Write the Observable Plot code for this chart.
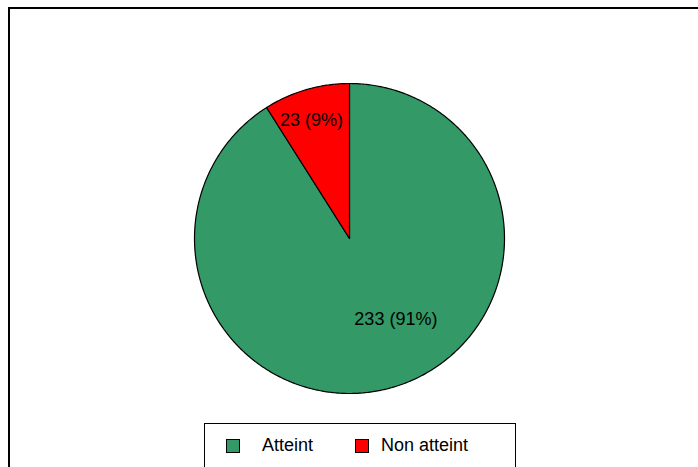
<!DOCTYPE html>
<html>
<head>
<meta charset="utf-8">
<script src="https://cdn.jsdelivr.net/npm/d3@7"></script>
<script src="https://cdn.jsdelivr.net/npm/@observablehq/plot@0.6"></script>
<style>
  html, body { margin: 0; padding: 0; background: #fff; overflow: hidden; }
  #wrap { position: relative; width: 698px; height: 467px; overflow: hidden; font-family: "Liberation Sans", Arial, sans-serif; }
  #frame { position: absolute; left: 8px; top: 7px; width: 720px; height: 500px; border: 2px solid #000; box-sizing: border-box; }
  #chart { position: absolute; left: 0; top: 0; }
  #legend { position: absolute; left: 204px; top: 423px; width: 312px; height: 60px; border: 1.5px solid #000; box-sizing: border-box; background: #fff; }
  .item { position: absolute; top: 11px; font-size: 18px; color: #000; display: flex; align-items: center; }
  .sw { width: 12px; height: 12px; border: 1.5px solid #000; margin-right: 22px; }
</style>
</head>
<body>
<div id="wrap">
  <div id="frame"></div>
  <div id="chart"></div>
  <div id="legend"></div>
</div>
<script>
const categories = ["Atteint", "Non atteint"];
const values = [233, 23];
const percentLabels = ["91%", "9%"];
const colors = ["#339966", "#FF0000"];

// layout
const W = 698, H = 467, cx = 349, cy = 238, R = 155;
const labelRadius = [0.6, 0.8];
const labelAngleShift = [-0.24, -0.03];

const arcs = d3.pie().sort(null).value(d => d)(values);
const polys = [];
arcs.forEach((a, i) => {
  const steps = Math.max(2, Math.ceil((a.endAngle - a.startAngle) / 0.01));
  polys.push({cat: categories[i], k: 0, x: 0, y: 0});
  for (let s = 0; s <= steps; s++) {
    const t = a.startAngle + (a.endAngle - a.startAngle) * s / steps;
    polys.push({cat: categories[i], k: s + 1, x: Math.sin(t), y: Math.cos(t)});
  }
});
const labels = arcs.map((a, i) => {
  const m = (a.startAngle + a.endAngle) / 2 + labelAngleShift[i];
  return {cat: categories[i], text: `${values[i]} (${percentLabels[i]})`, x: labelRadius[i] * Math.sin(m), y: labelRadius[i] * Math.cos(m)};
});

const plot = Plot.plot({
  width: W, height: H,
  margin: 0,
  x: {domain: [-cx / R, (W - cx) / R], axis: null},
  y: {domain: [-(H - cy) / R, cy / R], axis: null},
  color: {domain: categories, range: colors},
  style: {background: "transparent", fontFamily: "'Liberation Sans', Arial, sans-serif"},
  marks: [
    Plot.line(polys, {x: "x", y: "y", z: "cat", fill: "cat", stroke: "#000", strokeWidth: 1.2, curve: "linear-closed"}),
    Plot.text(labels, {x: "x", y: "y", text: "text", fontSize: 18, fill: "#000"})
  ]
});
document.getElementById("chart").appendChild(plot);

const legend = document.getElementById("legend");
const legendX = [21, 150];
categories.forEach((c, i) => {
  const it = document.createElement("div");
  it.className = "item";
  it.style.left = legendX[i] + "px";
  const sw = document.createElement("div");
  sw.className = "sw";
  sw.style.background = colors[i];
  if (i === 1) sw.style.marginRight = "12px";
  it.appendChild(sw);
  it.appendChild(document.createTextNode(c));
  legend.appendChild(it);
});
</script>
</body>
</html>
